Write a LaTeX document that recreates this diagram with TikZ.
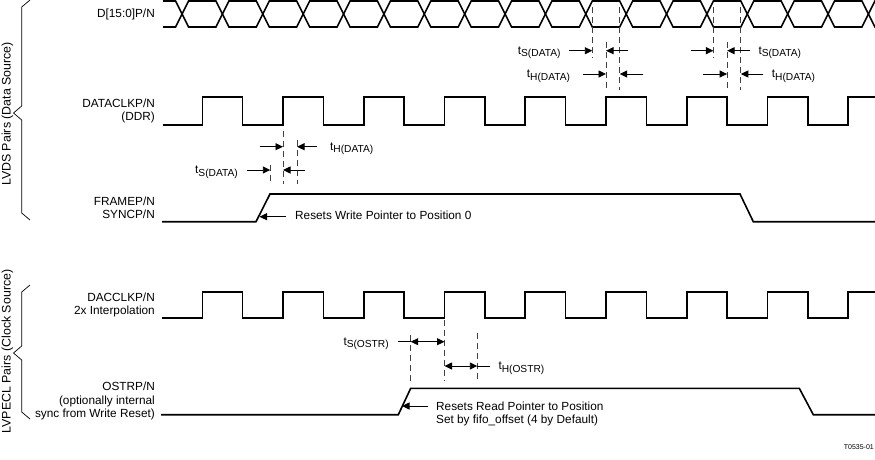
\documentclass[tikz,border=0pt]{standalone}
\usepackage{fontspec}
\setmainfont{Liberation Sans}
\usetikzlibrary{arrows.meta}
\newcommand{\tsub}[1]{t\raisebox{-2.6pt}{\fontsize{10.2}{11}\selectfont #1}}
\begin{document}
\begin{tikzpicture}[x=1pt,y=-1pt,
  sig/.style={line width=1.6pt, line join=miter},
  dsh/.style={line width=0.9pt, dash pattern=on 6pt off 4pt, draw=black!75},
  arr/.style={line width=0.9pt, -{Triangle[length=7.5pt,width=7pt]}},
  darr/.style={line width=0.9pt, {Triangle[length=7.5pt,width=7pt]}-{Triangle[length=7.5pt,width=7pt]}},
  thin/.style={line width=0.9pt},
  lbl/.style={inner sep=0pt, font=\fontsize{11.8}{13}\selectfont},
  glbl/.style={inner sep=0pt, font=\fontsize{12.4}{14}\selectfont},
  sm/.style={inner sep=0pt, font=\fontsize{7}{8}\selectfont}]
\useasboundingbox (0,0) rectangle (875,459);

% ---------- braces and group labels ----------
\draw[thin, line width=0.7pt] (30,0) -- (21.7,7) -- (21.7,106) -- (13.5,113) -- (21.7,120) -- (21.7,213) -- (30,220);
\draw[thin, line width=0.7pt] (30,285) -- (21.7,292) -- (21.7,346) -- (13.5,353) -- (21.7,360) -- (21.7,412) -- (30,419);
\node[glbl, rotate=90] (lvds) at (7.5,114) {LVDS Pairs (Data Source)};
\node[glbl, rotate=90] (lvpecl) at (7.5,351.5) {LVPECL Pairs (Clock Source)};

% ---------- signal names ----------
\node[lbl, anchor=base east] (dname) at (155,17.7) {D[15:0]P/N};
\node[lbl, anchor=base east] (dclk1) at (155,107.3) {DATACLKP/N};
\node[lbl, anchor=base east] (dclk2) at (155,120.7) {(DDR)};
\node[lbl, anchor=base east] (frm1) at (155,205.5) {FRAMEP/N};
\node[lbl, anchor=base east] (frm2) at (155,218.5) {SYNCP/N};
\node[lbl, anchor=base east] (dac1) at (155,301) {DACCLKP/N};
\node[lbl, anchor=base east] (dac2) at (155,314.3) {2x Interpolation};
\node[lbl, anchor=base east] (ostr1) at (155,390.5) {OSTRP/N};
\node[lbl, anchor=base east] (ostr2) at (155,404) {(optionally internal};
\node[lbl, anchor=base east] (ostr3) at (155,417.5) {sync from Write Reset)};

% ---------- data bus ----------
\draw[sig] (163,1) -- (175.6,1) -- (182.1,14) -- (175.6,27) -- (163,27);
\foreach \k in {1,...,17} {
  \pgfmathsetmacro{\a}{182.1+40.37*(\k-1)}
  \pgfmathsetmacro{\b}{182.1+40.37*\k}
  \draw[sig] (\a,14) -- (\a+6.5,1) -- (\b-6.5,1) -- (\b,14) -- (\b-6.5,27) -- (\a+6.5,27) -- cycle;
}
\draw[sig] (875.5,1) -- (874.9,1) -- (868.4,14) -- (874.9,27) -- (875.5,27);

% ---------- DATACLK ----------
\draw[sig] (163,125) \foreach \n in {0,2,...,14} { -- ({202.3+40.37*\n},125) -- ({202.3+40.37*\n},97) -- ({202.3+40.37*(\n+1)},97) -- ({202.3+40.37*(\n+1)},125) } -- (848.2,125) -- (848.2,97) -- (875.5,97);

% ---------- FRAME ----------
\draw[sig] (162,221.7) -- (256,221.7) -- (270,194) -- (740,194) -- (753.3,221.7) -- (875.5,221.7);

% ---------- DACCLK ----------
\draw[sig] (162,317.7) \foreach \n in {0,2,...,14} { -- ({202.3+40.37*\n},317.7) -- ({202.3+40.37*\n},291.7) -- ({202.3+40.37*(\n+1)},291.7) -- ({202.3+40.37*(\n+1)},317.7) } -- (848.2,317.7) -- (848.2,291.7) -- (875.5,291.7);

% ---------- OSTR ----------
\draw[sig] (161,414.7) -- (398.3,414.7) -- (410.7,388.3) -- (799.3,388.3) -- (813.3,414.7) -- (875.5,414.7);

% ---------- dashed timing references ----------
\draw[dsh] (592.3,7) -- (592.3,58);
\draw[dsh] (606,42) -- (606,90);
\draw[dsh] (619.7,7) -- (619.7,90);
\draw[dsh] (713.4,7) -- (713.4,58);
\draw[dsh] (727.1,42) -- (727.1,90);
\draw[dsh] (740.8,7) -- (740.8,90);

\draw[dsh] (283,131) -- (283,184);
\draw[dsh] (270.3,165) -- (270.3,184);
\draw[dsh] (297,140) -- (297,184);

\draw[dsh] (410.7,335) -- (410.7,383);
\draw[dsh] (444.5,320) -- (444.5,381);
\draw[dsh] (477.3,333) -- (477.3,381);

% ---------- timing arrows ----------
\draw[arr] (569.3,50.7) -- (592.3,50.7);
\draw[arr] (628,50.7) -- (606,50.7);
\draw[arr] (582.7,74) -- (606,74);
\draw[arr] (643.3,74) -- (619.7,74);
\node[lbl, anchor=base west] (ts1) at (517.7,54) {\tsub{S(DATA)}};
\node[lbl, anchor=base west] (th1) at (526.7,77.5) {\tsub{H(DATA)}};

\draw[arr] (690.7,50.7) -- (713.4,50.7);
\draw[arr] (750,50.7) -- (727.1,50.7);
\draw[arr] (702.7,74) -- (727.1,74);
\draw[arr] (763.3,74) -- (740.8,74);
\node[lbl, anchor=base west] (ts2) at (758.3,54) {\tsub{S(DATA)}};
\node[lbl, anchor=base west] (th2) at (771.7,77.5) {\tsub{H(DATA)}};

\draw[arr] (260,146.7) -- (283,146.7);
\draw[arr] (317,146.7) -- (297,146.7);
\draw[arr] (247.3,170) -- (270.3,170);
\draw[arr] (305,170) -- (283,170);
\node[lbl, anchor=base west] (th3) at (330,150.3) {\tsub{H(DATA)}};
\node[lbl, anchor=base west] (ts3) at (195,173.5) {\tsub{S(DATA)}};

\draw[arr] (286,216.7) -- (259.5,216.7);
\node[lbl, anchor=base west] (rw) at (295,219.8) {Resets Write Pointer to Position 0};

\draw[thin] (398.3,341.7) -- (410.7,341.7);
\draw[darr] (410.7,341.7) -- (444.5,341.7);
\node[lbl, anchor=base west] (tso) at (343.3,345) {\tsub{S(OSTR)}};
\draw[darr] (444.5,366) -- (477.3,366);
\draw[thin] (477.3,366) -- (490,366);
\node[lbl, anchor=base west] (tho) at (498.3,369.5) {\tsub{H(OSTR)}};

\draw[arr] (428.3,406) -- (402,406);
\node[lbl, anchor=base west] (rr1) at (436,410.7) {Resets Read Pointer to Position};
\node[lbl, anchor=base west] (rr2) at (436,423.5) {Set by fifo\_offset (4 by Default)};

\node[sm, anchor=base east] (fig) at (874,449) {T0535-01};
\end{tikzpicture}
\end{document}
